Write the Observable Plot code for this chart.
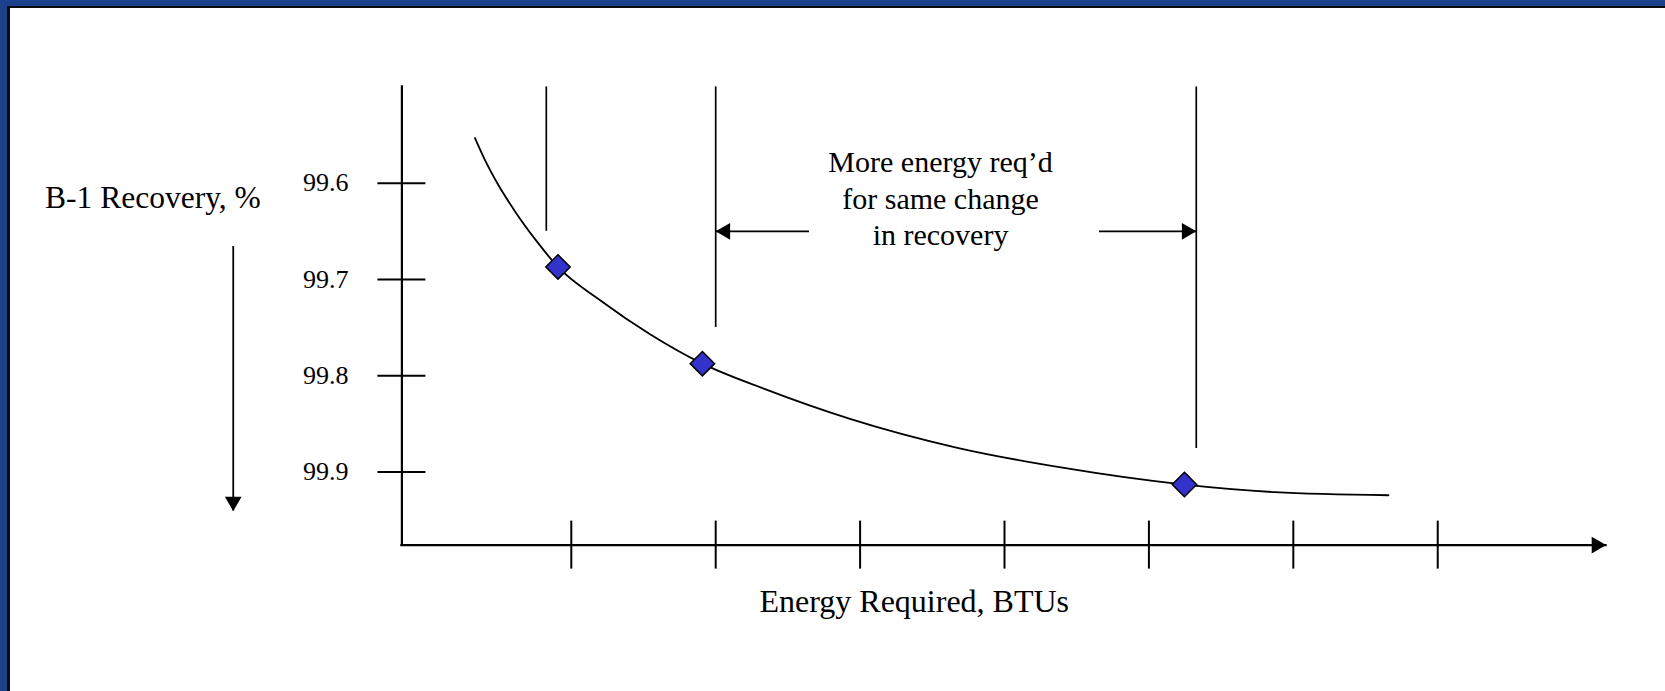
<!DOCTYPE html>
<html>
<head>
<meta charset="utf-8">
<script src="https://cdn.jsdelivr.net/npm/d3@7"></script>
<script src="https://cdn.jsdelivr.net/npm/@observablehq/plot@0.6"></script>
<style>
  html, body { margin: 0; padding: 0; background: #fff; }
  #wrap { position: relative; width: 1665px; height: 691px; overflow: hidden; background: #fff; }
  .edge { position: absolute; }
</style>
</head>
<body>
<div id="wrap">
  <div class="edge" style="left:0;top:0;width:1665px;height:6px;background:#1b428a"></div>
  <div class="edge" style="left:0;top:0;width:7px;height:691px;background:#1b428a"></div>
  <div class="edge" style="left:7px;top:6px;width:1658px;height:2px;background:#0b0b10"></div>
  <div class="edge" style="left:7px;top:6px;width:3px;height:685px;background:#0b0b10"></div>
</div>
<script>
// ---- data ----
const xTicks = [1, 2, 3, 4, 5, 6, 7];            // unlabeled energy ticks
const yTicks = [99.6, 99.7, 99.8, 99.9];           // recovery ticks
const xDomain = [-0.173, 8.166];                   // energy axis extent (arrow tip at right)
const yDomain = [99.5, 99.976];                    // recovery axis extent (axis reversed)

const curveEnergy   = [0.333, 0.406, 0.489, 0.614, 0.752, 0.911, 1.202, 1.548, 1.908, 2.342, 2.930, 3.666, 4.401, 5.246, 5.872, 6.659];
const curveRecovery = [99.5531, 99.5771, 99.6004, 99.6301, 99.6587, 99.6876, 99.7219, 99.7572, 99.7875, 99.814, 99.8449, 99.8747, 99.8956, 99.9132, 99.9210, 99.9242];

const pointEnergy   = [0.908, 1.908, 5.246];
const pointRecovery = [99.687, 99.7875, 99.913];

const guideEnergy   = [0.827, 2.0, 5.328];
const guideBottom   = [99.65, 99.75, 99.8756];

const spanFrom = [2.650, 4.658];
const spanTo   = [2.0, 5.328];
const spanRecovery = 99.65;

const downArrowEnergy = -1.341;
const downArrowFrom = 99.6658;
const downArrowTo = 99.9407;

const noteText = "More energy req\u2019d\nfor same change\nin recovery";
const yTitle = "B-1 Recovery, %";
const xTitle = "Energy Required, BTUs";

// ---- build tables ----
const curve = curveEnergy.map((e, i) => ({e, r: curveRecovery[i]}));
const points = pointEnergy.map((e, i) => ({e, r: pointRecovery[i]}));
const guides = guideEnergy.map((e, i) => ({e, r: guideBottom[i]}));
const spans = spanFrom.map((f, i) => ({f, t: spanTo[i], r: spanRecovery}));
const rightHeads = [{e: xDomain[1], r: yDomain[1]}, {e: spanTo[1], r: spanRecovery}];
const leftHeads = [{e: spanTo[0], r: spanRecovery}];
const downHeads = [{e: downArrowEnergy, r: downArrowTo}];

const serif = "'Liberation Serif', 'Times New Roman', Times, serif";

const chart = Plot.plot({
  width: 1665,
  height: 691,
  marginLeft: 401.4,
  marginRight: 59.4,
  marginTop: 86.4,
  marginBottom: 146.4,
  x: {domain: xDomain},
  y: {domain: yDomain, reverse: true},
  style: {fontFamily: serif, color: "black", background: "transparent", overflow: "visible"},
  marks: [
    Plot.axisY(yTicks, {anchor: "left", tickSize: 48, dx: 24, tickPadding: 29.4, fontSize: 26,
      strokeWidth: 2, label: null, fontFamily: serif, tickFormat: d => d.toFixed(1)}),
    Plot.axisX(xTicks, {anchor: "bottom", tickSize: 48, dy: -24, strokeWidth: 2,
      label: null, tickFormat: () => ""}),
    Plot.ruleX([xDomain[0]], {y1: yDomain[0], y2: yDomain[1], strokeWidth: 2.2, strokeLinecap: "square"}),
    Plot.ruleY([yDomain[1]], {x1: xDomain[0], x2: xDomain[1], strokeWidth: 2.2, strokeLinecap: "square"}),
    Plot.ruleX(guides, {x: "e", y1: yDomain[0], y2: "r", strokeWidth: 1.7}),
    Plot.ruleY(spans, {y: "r", x1: "f", x2: "t", strokeWidth: 1.7}),
    Plot.ruleX([downArrowEnergy], {y1: downArrowFrom, y2: downArrowTo, strokeWidth: 1.8}),
    Plot.dot(rightHeads, {x: "e", y: "r", symbol: "triangle", r: 6.2, fill: "black", stroke: null, rotate: 90, dx: -9.6}),
    Plot.dot(leftHeads, {x: "e", y: "r", symbol: "triangle", r: 6.2, fill: "black", stroke: null, rotate: -90, dx: 9.6}),
    Plot.dot(downHeads, {x: "e", y: "r", symbol: "triangle", r: 6.2, fill: "black", stroke: null, rotate: 180, dy: -9.6}),
    Plot.line(curve, {x: "e", y: "r", curve: "monotone-x", strokeWidth: 1.8, stroke: "black"}),
    Plot.dot(points, {x: "e", y: "r", symbol: "diamond2", r: 11, fill: "#3333cc", stroke: "black", strokeWidth: 1.5}),
    Plot.text([noteText], {x: 3.557, y: 99.6142, text: d => d, fontSize: 30, lineHeight: 1.22,
      textAnchor: "middle", lineAnchor: "middle", fontFamily: serif, fill: "black"}),
    Plot.text([yTitle], {x: -1.897, y: 99.6149, text: d => d, fontSize: 31.5, textAnchor: "middle",
      lineAnchor: "middle", fontFamily: serif, fill: "black"}),
    Plot.text([xTitle], {x: 3.375, y: 100.0345, text: d => d, fontSize: 32, textAnchor: "middle",
      lineAnchor: "middle", fontFamily: serif, fill: "black"})
  ]
});
chart.style.position = "absolute";
chart.style.left = "0px";
chart.style.top = "0px";
chart.style.maxWidth = "none";
const wrap = document.getElementById("wrap");
wrap.insertBefore(chart, wrap.firstChild);
</script>
</body>
</html>
